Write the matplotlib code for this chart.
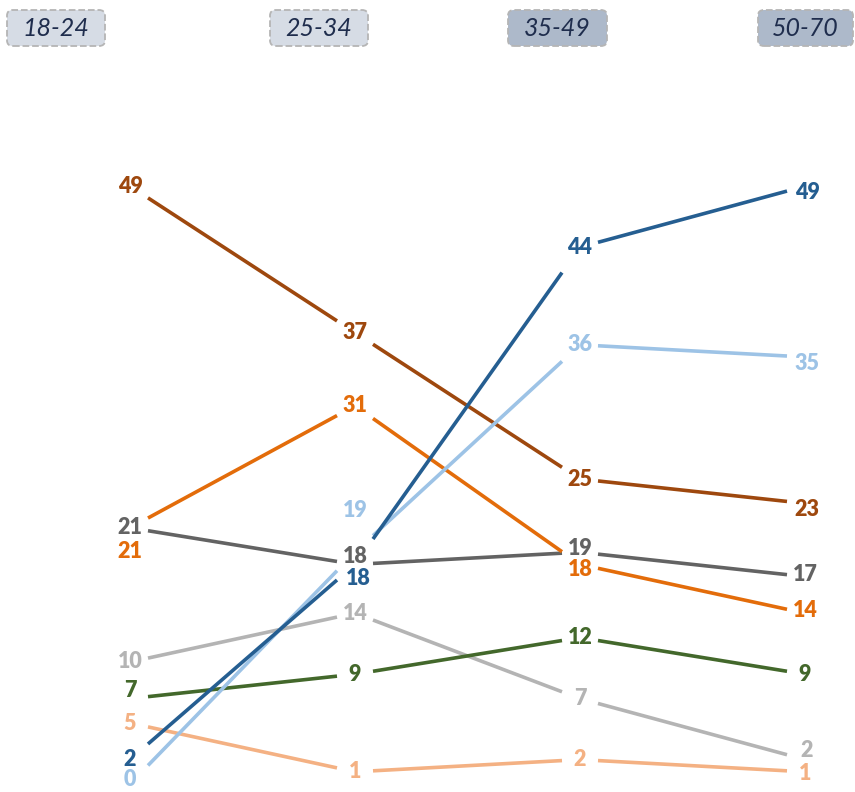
import matplotlib.pyplot as plt
from matplotlib.patches import FancyBboxPatch

# age groups (column headers)
groups = ['18-24', '25-34', '35-49', '50-70']

# one list per line, value per age group
brown = [49, 37, 25, 23]
orange = [21, 31, 18, 14]
dark_gray = [21, 18, 19, 17]
blue = [2, 18, 44, 49]
light_blue = [0, 19, 36, 35]
light_gray = [10, 14, 7, 2]
green = [7, 9, 12, 9]
light_orange = [5, 1, 2, 1]

series = [light_gray, light_orange, green, dark_gray, orange, brown, light_blue, blue]
colors = ['#B4B4B4', '#F4B183', '#43682B', '#636363', '#E36C0A', '#9E480E', '#9DC3E6', '#255E91']

# label nudges in pixels (series index, column) -> (dx, dy), to keep overlapping labels apart
nudge = {
    (4, 0): (0, -24), (2, 0): (0, 8), (6, 0): (0, 4),
    (6, 1): (0, 42), (3, 1): (0, 8), (7, 1): (3, -14),
    (3, 2): (0, 4), (4, 2): (0, -5),
    (5, 3): (2, -6), (6, 3): (2, -6), (7, 3): (2, -6), (1, 3): (0, -2), (0, 3): (2, 9),
    (3, 3): (0, 2), (4, 3): (0, 3),
}

gap = 0.08  # gap between a line end and its label, in x units

fig = plt.figure(figsize=(8.55, 7.92), dpi=100)
ax = fig.add_axes([0, 0, 1, 1])
ax.set_xlim(-130 / 225, 3 + 50 / 225)
ax.set_ylim(-8 / 12.2, 784 / 12.2)
ax.axis('off')

for k, (vals, c) in enumerate(zip(series, colors)):
    for i in range(len(vals) - 1):
        y0, y1 = vals[i], vals[i + 1]
        dy = y1 - y0
        ax.plot([i + gap, i + 1 - gap], [y0 + gap * dy, y1 - gap * dy],
                color=c, lw=2.6, solid_capstyle='butt', zorder=2 + k)
    for i, v in enumerate(vals):
        dx, dy = nudge.get((k, i), (0, 0))
        ax.annotate(str(v), (i, v), xytext=(dx, dy), textcoords='offset pixels',
                    ha='center', va='center', color=c, fontsize=15.5,
                    fontweight='heavy', family='Lato', zorder=20)

# header boxes (pixel positions in the figure)
box_x = [(7, 105), (270, 368), (508, 607), (758, 853)]
box_fill = ['#D6DCE5', '#D6DCE5', '#ADB9CA', '#ADB9CA']
W, H = 855, 792
for g, (x0, x1), fc in zip(groups, box_x, box_fill):
    p = FancyBboxPatch((x0 / W, 1 - 46 / H), (x1 - x0) / W, 36 / H,
                       boxstyle='round,pad=0,rounding_size=0.007',
                       transform=fig.transFigure, facecolor=fc,
                       edgecolor='#B5B5B5', linestyle='--', lw=1.3)
    fig.patches.append(p)
    fig.text((x0 + x1) / 2 / W, 1 - 29 / H, g, ha='center', va='center',
             fontsize=18, style='italic', color='#1F2D4D', family='Lato')

plt.savefig('out.png', dpi=100)
